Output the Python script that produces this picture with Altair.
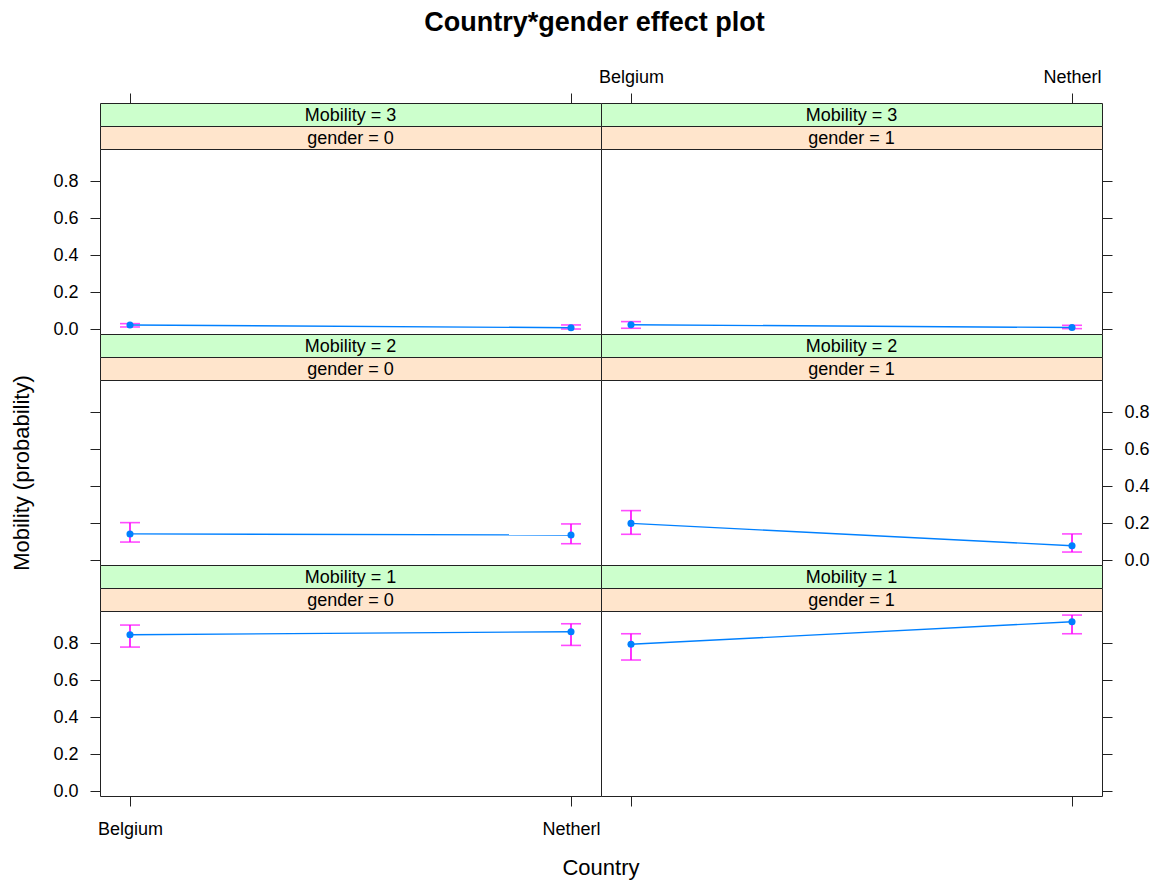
import altair as alt
import pandas as pd

# Country levels on the x axis
countries = ["Belgium", "Netherl"]

# Fitted probabilities (Belgium, Netherl) with lower / upper confidence limits
fit_m1_g0 = [0.845, 0.861]
low_m1_g0 = [0.778, 0.787]
upp_m1_g0 = [0.897, 0.904]

fit_m1_g1 = [0.793, 0.915]
low_m1_g1 = [0.708, 0.850]
upp_m1_g1 = [0.850, 0.951]

fit_m2_g0 = [0.141, 0.135]
low_m2_g0 = [0.097, 0.088]
upp_m2_g0 = [0.202, 0.195]

fit_m2_g1 = [0.198, 0.077]
low_m2_g1 = [0.139, 0.043]
upp_m2_g1 = [0.267, 0.141]

fit_m3_g0 = [0.022, 0.007]
low_m3_g0 = [0.011, 0.000]
upp_m3_g0 = [0.029, 0.022]

fit_m3_g1 = [0.023, 0.008]
low_m3_g1 = [0.004, 0.002]
upp_m3_g1 = [0.040, 0.020]

y_ticks = [0.0, 0.2, 0.4, 0.6, 0.8]

series = {
    (1, 0): (fit_m1_g0, low_m1_g0, upp_m1_g0),
    (1, 1): (fit_m1_g1, low_m1_g1, upp_m1_g1),
    (2, 0): (fit_m2_g0, low_m2_g0, upp_m2_g0),
    (2, 1): (fit_m2_g1, low_m2_g1, upp_m2_g1),
    (3, 0): (fit_m3_g0, low_m3_g0, upp_m3_g0),
    (3, 1): (fit_m3_g1, low_m3_g1, upp_m3_g1),
}

records = []
for (mob, g), (f, lo, up) in series.items():
    for c, fv, lv, uv in zip(countries, f, lo, up):
        records.append({"Country": c, "Mobility": mob, "gender": g,
                        "fit": fv, "lower": lv, "upper": uv})
df = pd.DataFrame(records)

PANEL_W = 501
STRIP_H = 23
PLOT_H = 185
FONT = "Liberation Sans"
BORDER = "#222222"
LINE_BLUE = "#0080ff"
BAR_MAGENTA = "#ff00ff"

x_scale = alt.Scale(type="point", domain=countries, padding=0.068)
y_scale = alt.Scale(domain=[-0.027, 0.973], nice=False, zero=False)


def strip(label, fill, top_axis=None):
    text = alt.Chart(pd.DataFrame({"label": [label]})).mark_text(
        font=FONT, fontSize=18, color="black", baseline="middle", dy=1
    ).encode(text="label:N")
    view = alt.ViewBackground(fill=fill, stroke=BORDER, strokeWidth=1)
    if top_axis is None:
        return text.properties(width=PANEL_W, height=STRIP_H, view=view)
    anchor_pts = alt.Chart(pd.DataFrame({"Country": countries})).mark_point(
        opacity=0
    ).encode(x=alt.X("Country:N", scale=x_scale, sort=countries, axis=top_axis))
    return alt.layer(anchor_pts, text).properties(
        width=PANEL_W, height=STRIP_H, view=view
    )


def panel(mob, g, row, col):
    d = df[(df.Mobility == mob) & (df.gender == g)]
    left = col == 0
    if left:
        show_y = row != 1
    else:
        show_y = row == 1
    y_axis = alt.Axis(
        orient="left" if left else "right", values=y_ticks, format=".1f",
        tickSize=10, labelPadding=12, domain=False, grid=False,
        labels=show_y, title=None,
    )
    if row == 2:
        x_axis = alt.Axis(orient="bottom", tickSize=10, labelPadding=14,
                          domain=False, grid=False, labels=left, title=None,
                          labelAngle=0)
    else:
        x_axis = None
    x = alt.X("Country:N", scale=x_scale, sort=countries, axis=x_axis)
    base = alt.Chart(d)

    bars = base.mark_rule(color=BAR_MAGENTA, strokeWidth=1.6).encode(
        x=x, y=alt.Y("lower:Q", scale=y_scale, axis=y_axis), y2="upper:Q")
    cap_lo = base.mark_tick(orient="horizontal", size=20, thickness=1.6,
                            color=BAR_MAGENTA).encode(
        x=x, y=alt.Y("lower:Q", scale=y_scale, axis=y_axis))
    cap_hi = base.mark_tick(orient="horizontal", size=20, thickness=1.6,
                            color=BAR_MAGENTA).encode(
        x=x, y=alt.Y("upper:Q", scale=y_scale, axis=y_axis))
    line = base.mark_line(color=LINE_BLUE, strokeWidth=1.4).encode(
        x=x, y=alt.Y("fit:Q", scale=y_scale, axis=y_axis))
    pts = base.mark_point(filled=True, shape="circle", size=50,
                          color=LINE_BLUE, opacity=1).encode(
        x=x, y=alt.Y("fit:Q", scale=y_scale, axis=y_axis))
    return alt.layer(bars, cap_lo, cap_hi, line, pts).properties(
        width=PANEL_W, height=PLOT_H,
        view=alt.ViewBackground(fill="white", stroke=BORDER, strokeWidth=1),
    )


# Cells in reading order: two columns (gender 0, gender 1), three Mobility rows
cells = []
for r, mob in enumerate([3, 2, 1]):
    for c in range(2):
        top_axis = None
        if r == 0:
            top_axis = alt.Axis(orient="top", tickSize=10, labelPadding=7,
                                domain=False, grid=False, labels=(c == 1),
                                title=None, labelAngle=0)
        cells.append(strip(f"Mobility = {mob}", "#ccffcc", top_axis))
    for g in (0, 1):
        cells.append(strip(f"gender = {g}", "#ffe5cc"))
    for g in (0, 1):
        cells.append(panel(mob, g, r, g))

grid = alt.concat(*cells, columns=2, spacing=0, bounds="flush")

with_xlab = alt.vconcat(grid, spacing=0, title=alt.Title(
    "Country", orient="bottom", anchor="middle", font=FONT, fontSize=22,
    fontWeight="normal", color="black", offset=19))

with_ylab = alt.hconcat(with_xlab, spacing=0, title=alt.Title(
    "Mobility (probability)", orient="left", anchor="middle", font=FONT,
    fontSize=22, fontWeight="normal", color="black", offset=18))

chart = alt.vconcat(with_ylab, spacing=0, title=alt.Title(
    "Country*gender effect plot", anchor="middle", font=FONT, fontSize=27,
    fontWeight="bold", color="black", offset=31, dx=14),
).properties(
    padding={"left": 11, "top": 8, "right": 5, "bottom": 5},
    background="white",
).configure(font=FONT).configure_axis(
    labelFont=FONT, labelFontSize=18, labelColor="black",
    tickColor=BORDER, tickWidth=1,
)

chart.save("out.html", embed_options={"renderer": "svg", "actions": False})
